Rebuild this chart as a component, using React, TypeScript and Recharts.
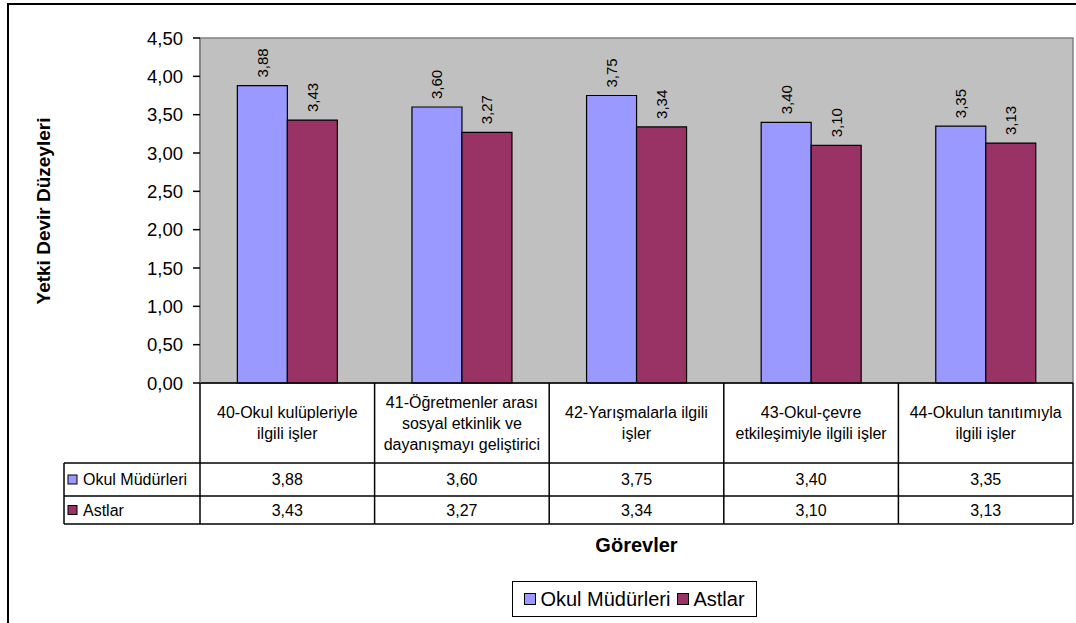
import { BarChart, Bar, XAxis, YAxis, ReferenceArea, LabelList, Label } from "recharts";

// Görev kategorileri (satır sonları tablo hücresindeki kırılımlar)
const CATEGORIES = [
  "40-Okul kulüpleriyle\nilgili işler",
  "41-Öğretmenler arası\nsosyal etkinlik ve\ndayanışmayı geliştirici",
  "42-Yarışmalarla ilgili\nişler",
  "43-Okul-çevre\netkileşimiyle ilgili işler",
  "44-Okulun tanıtımıyla\nilgili işler",
];
const MUDURLER = [3.88, 3.6, 3.75, 3.4, 3.35];
const ASTLAR = [3.43, 3.27, 3.34, 3.1, 3.13];
const SERIES = ["Okul Müdürleri", "Astlar"];
const Y_TICKS = [0, 0.5, 1, 1.5, 2, 2.5, 3, 3.5, 4, 4.5];

const BLUE = "#9999FF";
const PLUM = "#993366";
const FONT = "'Liberation Sans', Arial, sans-serif";

// layout
const W = 1076;
const H = 623;
const PLOT_L = 200;
const PLOT_R = 1073;
const PLOT_T = 38;
const AXIS_Y = 383;
const ROW_CAT = 463;
const ROW_A = 496;
const ROW_B = 524;
const COL_W = (PLOT_R - PLOT_L) / CATEGORIES.length;
const LEG_L = 64;
const TABLE_FS = 16;

const data = CATEGORIES.map((name, i) => ({ name, mudur: MUDURLER[i], astlar: ASTLAR[i] }));

const fmt = (v: number) => v.toFixed(2).replace(".", ",");

function Swatch({ x, y, color }: { x: number; y: number; color: string }) {
  return <rect x={x} y={y} width={9} height={9} fill={color} stroke="#000" strokeWidth={1} />;
}

// x ekseni altındaki veri tablosu, her kategori için bir sütun
function TableTick(props: any) {
  const { x, payload } = props;
  const i = payload.index;
  const left = x - COL_W / 2;
  const right = x + COL_W / 2;
  const lines = String(payload.value).split("\n");
  const lh = 21;
  const firstY = (AXIS_Y + ROW_CAT) / 2 - ((lines.length - 1) * lh) / 2;
  const line = { stroke: "#000", strokeWidth: 1.5 };
  return (
    <g fontFamily={FONT} fontSize={TABLE_FS} fill="#000">
      <line x1={left} y1={AXIS_Y} x2={left} y2={ROW_B} {...line} />
      {i === CATEGORIES.length - 1 && <line x1={right} y1={AXIS_Y} x2={right} y2={ROW_B} {...line} />}
      <line x1={left} y1={ROW_CAT} x2={right} y2={ROW_CAT} {...line} />
      <line x1={left} y1={ROW_A} x2={right} y2={ROW_A} {...line} />
      <line x1={left} y1={ROW_B} x2={right} y2={ROW_B} {...line} />
      {lines.map((t, k) => (
        <text key={k} x={x} y={firstY + k * lh} textAnchor="middle" dominantBaseline="central">
          {t}
        </text>
      ))}
      <text x={x} y={(ROW_CAT + ROW_A) / 2} textAnchor="middle" dominantBaseline="central">
        {fmt(data[i].mudur)}
      </text>
      <text x={x} y={(ROW_A + ROW_B) / 2} textAnchor="middle" dominantBaseline="central">
        {fmt(data[i].astlar)}
      </text>
      {i === 0 && (
        <g>
          <line x1={LEG_L} y1={ROW_CAT} x2={left} y2={ROW_CAT} {...line} />
          <line x1={LEG_L} y1={ROW_A} x2={left} y2={ROW_A} {...line} />
          <line x1={LEG_L} y1={ROW_B} x2={left} y2={ROW_B} {...line} />
          <line x1={LEG_L} y1={ROW_CAT} x2={LEG_L} y2={ROW_B} {...line} />
          <Swatch x={68} y={(ROW_CAT + ROW_A) / 2 - 4.5} color={BLUE} />
          <Swatch x={68} y={(ROW_A + ROW_B) / 2 - 4.5} color={PLUM} />
          <text x={83} y={(ROW_CAT + ROW_A) / 2} dominantBaseline="central">{SERIES[0]}</text>
          <text x={83} y={(ROW_A + ROW_B) / 2} dominantBaseline="central">{SERIES[1]}</text>
        </g>
      )}
    </g>
  );
}

function ValueLabel(props: any) {
  const { x, y, width, value } = props;
  const cx = x + width / 2;
  const ty = y - 8;
  return (
    <text
      x={cx}
      y={ty}
      transform={`rotate(-90 ${cx} ${ty})`}
      dominantBaseline="central"
      fontFamily={FONT}
      fontSize={15}
      fill="#000"
    >
      {fmt(value)}
    </text>
  );
}

export default function App() {
  return (
    <div style={{ position: "absolute", left: 0, top: 0, width: W, height: H, overflow: "hidden", background: "#fff" }}>
      <div
        style={{
          position: "absolute",
          left: 7,
          top: 3,
          width: W + 40,
          height: H + 40,
          border: "2px solid #000",
        }}
      />
      <BarChart
        width={W}
        height={H}
        data={data}
        margin={{ top: PLOT_T, right: W - PLOT_R, bottom: H - ROW_B - 1, left: PLOT_L - 60 }}
        barCategoryGap="21.4%"
        barGap={0}
        style={{ position: "absolute", left: 0, top: 0 }}
      >
        <ReferenceArea y1={0} y2={4.5} fill="#C0C0C0" fillOpacity={1} stroke="#808080" strokeWidth={1.5} />
        <XAxis
          dataKey="name"
          height={ROW_B + 1 - AXIS_Y}
          interval={0}
          tickLine={false}
          axisLine={{ stroke: "#000", strokeWidth: 1.5 }}
          tick={<TableTick />}
        />
        <YAxis
          width={60}
          domain={[0, 4.5]}
          ticks={Y_TICKS}
          tickFormatter={fmt}
          tickSize={7}
          tickMargin={10}
          axisLine={{ stroke: "#808080", strokeWidth: 1.5 }}
          tickLine={{ stroke: "#000", strokeWidth: 1.5 }}
          tick={{ fontFamily: FONT, fontSize: 18.5, fill: "#000" }}
        >
          <Label
            content={() => (
              <text
                x={43}
                y={211}
                transform="rotate(-90 43 211)"
                textAnchor="middle"
                dominantBaseline="central"
                fontFamily={FONT}
                fontWeight="bold"
                fontSize={19}
                fill="#000"
              >
                Yetki Devir Düzeyleri
              </text>
            )}
          />
        </YAxis>
        <Bar dataKey="mudur" name={SERIES[0]} fill={BLUE} stroke="#000" strokeWidth={1.2} isAnimationActive={false}>
          <LabelList dataKey="mudur" content={<ValueLabel />} />
        </Bar>
        <Bar dataKey="astlar" name={SERIES[1]} fill={PLUM} stroke="#000" strokeWidth={1.2} isAnimationActive={false}>
          <LabelList dataKey="astlar" content={<ValueLabel />} />
        </Bar>
      </BarChart>
      <div
        style={{
          position: "absolute",
          left: (PLOT_L + PLOT_R) / 2,
          top: 532,
          transform: "translateX(-50%)",
          fontFamily: FONT,
          fontWeight: "bold",
          fontSize: 20,
          lineHeight: "26px",
          whiteSpace: "nowrap",
        }}
      >
        Görevler
      </div>
      <div
        style={{
          position: "absolute",
          left: 512,
          top: 581,
          width: 245,
          height: 36,
          border: "1.5px solid #000",
          display: "flex",
          alignItems: "center",
          justifyContent: "center",
          fontFamily: FONT,
          fontSize: 20,
          gap: 7,
          boxSizing: "border-box",
        }}
      >
        {SERIES.map((s, k) => (
          <span key={s} style={{ display: "flex", alignItems: "center", gap: 4 }}>
            <span
              style={{
                display: "inline-block",
                width: 10,
                height: 10,
                background: k === 0 ? BLUE : PLUM,
                border: "1px solid #000",
              }}
            />
            {s}
          </span>
        ))}
      </div>
    </div>
  );
}
